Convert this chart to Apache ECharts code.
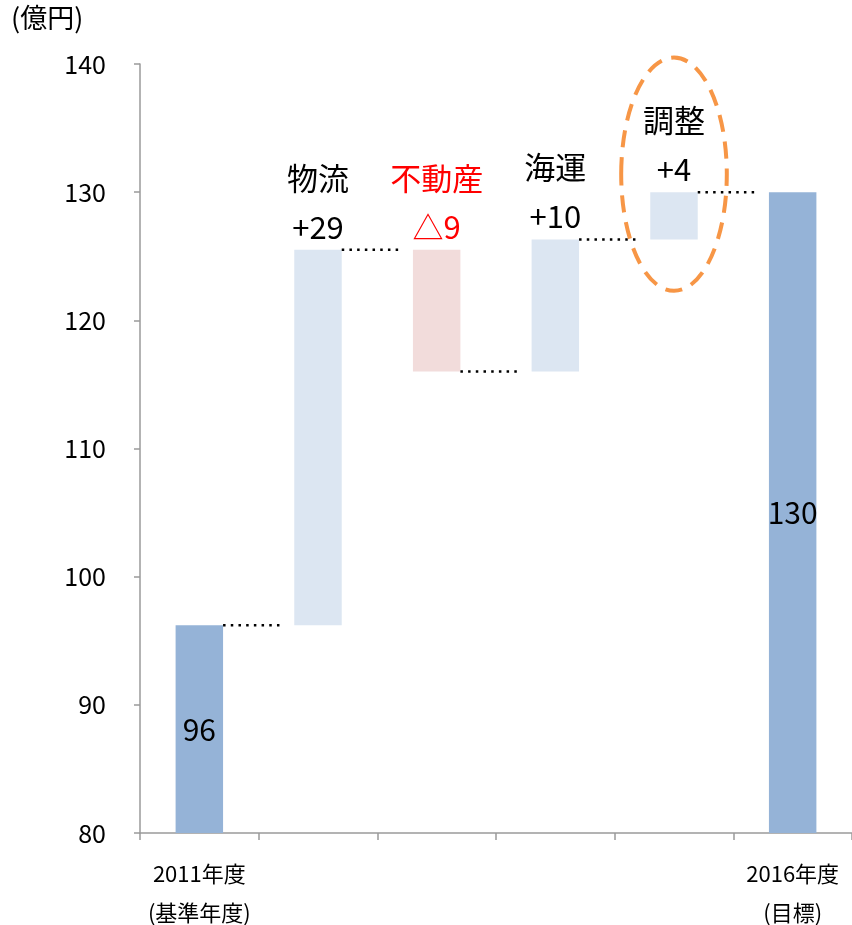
<!DOCTYPE html>
<html>
<head>
<meta charset="utf-8">
<script src="https://cdn.jsdelivr.net/npm/echarts@6/dist/echarts.min.js"></script>
<style>
html,body{margin:0;padding:0;background:#fff;}
#chart{width:852px;height:925px;}
</style>
</head>
<body>
<div id="chart"></div>
<script>
// ---- data ----
const categories = ['2011年度\n(基準年度)', '', '', '', '', '2016年度\n(目標)'];
const startValues = [0, 96.2, 125.5, 116.0, 126.3, 0];
const endValues   = [96.2, 125.5, 116.0, 126.3, 130.0, 130.0];
const segmentNames = ['', '物流', '不動産', '海運', '調整', ''];
const deltaLabels  = ['96', '+29', '△9', '+10', '+4', '130'];
const yTicks = { min: 80, max: 140, interval: 10 };
const yAxisName = '(億円)';

// ---- build ----
const FONT = '"Noto Sans CJK JP", "Noto Sans", sans-serif';
const n = categories.length;
const isTotal = i => i === 0 || i === n - 1;
const bottoms = startValues.map((s, i) => Math.min(s, endValues[i]));
const tops = startValues.map((s, i) => Math.max(s, endValues[i]));

const helperData = bottoms.map(b => b);
const visibleData = tops.map((t, i) => {
  const total = isTotal(i);
  const down = endValues[i] < startValues[i];
  const color = total ? '#95b3d7' : (down ? '#f2dcdb' : '#dce6f2');
  const textColor = down ? '#ff0000' : '#000000';
  const item = { value: +(t - bottoms[i]).toFixed(2), itemStyle: { color } };
  if (total) {
    item.label = {
      show: true, position: 'inside', formatter: deltaLabels[i],
      fontSize: 30, color: '#000', fontFamily: FONT
    };
  } else {
    item.label = {
      show: true, position: 'top', distance: 8,
      formatter: '{n|' + segmentNames[i] + '}\n{d|' + deltaLabels[i] + '}',
      rich: {
        n: { fontSize: 31, lineHeight: 68, color: textColor, fontFamily: FONT },
        d: { fontSize: 31, lineHeight: 30, color: textColor, fontFamily: FONT }
      }
    };
  }
  return item;
});

// connectors: from bar i to bar i+1 at the running level endValues[i]
const connectorData = endValues.slice(0, n - 1).map((v, i) => [i, v]);

const option = {
  animation: false,
  backgroundColor: '#ffffff',
  grid: { left: 140, right: 0, top: 64, bottom: 92, containLabel: false, outerBoundsMode: 'none' },
  graphic: [{
    type: 'text', left: 11, top: 4,
    style: { text: yAxisName, fontSize: 27, fill: '#000', fontFamily: FONT }
  }],
  xAxis: {
    type: 'category', data: categories,
    axisLine: { lineStyle: { color: '#9a9a9a', width: 1.5 } },
    axisTick: { show: true, length: 7, lineStyle: { color: '#9a9a9a', width: 1.5 } },
    axisLabel: { interval: 0, margin: 21, fontSize: 22, lineHeight: 39, color: '#000', fontFamily: FONT }
  },
  yAxis: {
    type: 'value', min: yTicks.min, max: yTicks.max, interval: yTicks.interval,
    splitLine: { show: false },
    axisLine: { show: true, lineStyle: { color: '#9a9a9a', width: 1.5 } },
    axisTick: { show: true, length: 6, lineStyle: { color: '#9a9a9a', width: 1.5 } },
    axisLabel: { margin: 34, fontSize: 25, color: '#000', fontFamily: FONT }
  },
  series: [
    {
      type: 'bar', stack: 'w', data: helperData, barWidth: '40%',
      itemStyle: { color: 'transparent' }, silent: true
    },
    {
      type: 'bar', stack: 'w', data: visibleData, barWidth: '40%'
    },
    {
      type: 'custom', data: connectorData, silent: true, z: 5,
      renderItem: function (params, api) {
        const i = api.value(0), v = api.value(1);
        const bw = api.size([1, 0])[0];
        const p0 = api.coord([i, v]);
        const p1 = api.coord([i + 1, v]);
        const x0 = p0[0] + bw * 0.2;
        const x1 = p1[0] - bw * 0.2 - 12;
        return {
          type: 'line',
          shape: { x1: x0, y1: p0[1], x2: x1, y2: p0[1] },
          style: { stroke: '#000', lineWidth: 2.5, lineDash: [2.5, 5.2] }
        };
      }
    },
    {
      type: 'custom', data: [[4, 131.4]], silent: true, z: 6,
      renderItem: function (params, api) {
        const c = api.coord([api.value(0), api.value(1)]);
        const bw = api.size([1, 0])[0];
        const hy = api.size([0, 9.1])[1];
        return {
          type: 'ellipse',
          shape: { cx: c[0], cy: c[1], rx: bw * 0.445, ry: hy },
          style: { fill: 'none', stroke: '#f79646', lineWidth: 4, lineDash: [17, 10] }
        };
      }
    }
  ]
};

const chart = echarts.init(document.getElementById('chart'), null, { renderer: 'canvas' });
chart.setOption(option);
</script>
</body>
</html>
